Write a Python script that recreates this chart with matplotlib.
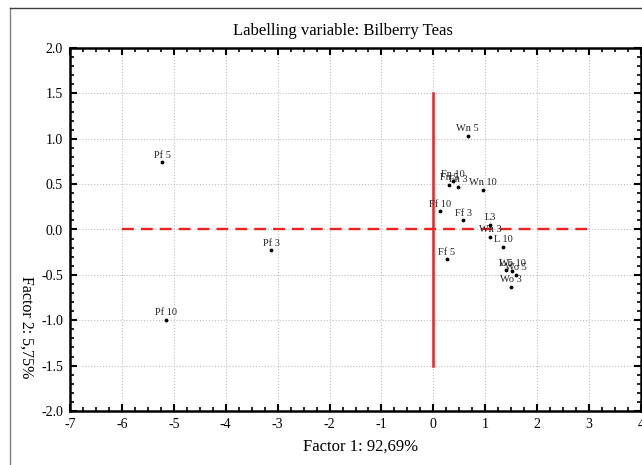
import numpy as np
import matplotlib
matplotlib.use('Agg')
import matplotlib.pyplot as plt
from matplotlib.lines import Line2D
from matplotlib.ticker import MultipleLocator

plt.rcParams['font.family'] = ['Liberation Serif', 'DejaVu Serif']

#-------------------------------------------------------------------------------
# DATA
#-------------------------------------------------------------------------------
labels = ['Pf 5', 'Pf 3', 'Pf 10',
          'Wn 5', 'Wn 10', 'Wn 3',
          'Fn 5', 'Fn 10', 'Fn 3',
          'Ff 10', 'Ff 3', 'Ff 5',
          'L3', 'L 10', 'L 5',
          'Wo 10', 'Wo 5', 'Wo 3']
f1 = [-5.22, -3.12, -5.15,
      0.66, 0.95, 1.09,
      0.30, 0.38, 0.48,
      0.13, 0.58, 0.26,
      1.09, 1.34, 1.39,
      1.52, 1.60, 1.49]
f2 = [0.74, -0.23, -1.00,
      1.03, 0.44, -0.08,
      0.49, 0.53, 0.47,
      0.20, 0.10, -0.33,
      0.05, -0.19, -0.45,
      -0.46, -0.50, -0.63]

hline_x = [-6, 3]
vline_y = [-1.5, 1.5]

#-------------------------------------------------------------------------------
# PLOT
#-------------------------------------------------------------------------------
fig = plt.figure(figsize=(6.42, 4.65), dpi=100)
ax = fig.add_axes([70/642, 1 - 411/465, 571/642, 363/465])

ax.set_xlim(-7, 4)
ax.set_ylim(-2, 2)
ax.xaxis.set_minor_locator(MultipleLocator(0.25))
ax.yaxis.set_minor_locator(MultipleLocator(0.1))
ax.set_xticks(np.arange(-7, 5, 1))
ax.set_xticklabels([str(t) for t in range(-7, 5)])
ax.set_yticks(np.arange(-2, 2.01, 0.5))
ax.set_yticklabels(['%.1f' % t for t in np.arange(-2, 2.01, 0.5)])

ax.tick_params(which='both', direction='in', top=True, right=True,
               color='k', labelsize=10, pad=5)
ax.tick_params(which='major', length=5, width=1.5)
ax.tick_params(which='minor', length=3, width=1.2)
for s in ax.spines.values():
    s.set_linewidth(1.8)

ax.grid(True, which='major', color='#c0c0c0', linestyle=':', linewidth=0.8)
ax.set_axisbelow(True)

ax.plot(hline_x, [0, 0], color='#ee2020', linestyle=(0, (5, 3)), linewidth=1.7, zorder=3)
ax.plot([0, 0], vline_y, color='#ee2020', linestyle='-', linewidth=1.8, zorder=3)

ax.scatter(f1, f2, s=3, color='k', zorder=4)
for lab, x, y in zip(labels, f1, f2):
    ax.annotate(lab, xy=(x, y), xytext=(0, 2), textcoords='offset points',
                ha='center', va='bottom', fontsize=7.5, color='#222222', zorder=5)

fig.text(343/642, 1 - 31/465, 'Labelling variable: Bilberry Teas',
         ha='center', va='center', fontsize=12)
fig.text(361/642, 1 - 447/465, 'Factor 1: 92,69%', ha='center', va='center',
         fontsize=12)
fig.text(26/642, 1 - 327/465, 'Factor 2: 5,75%', ha='center', va='center',
         fontsize=11.5, rotation=270)

# outer frame
fig.add_artist(Line2D([9.5/642, 9.5/642], [0, 1 - 8/465], transform=fig.transFigure,
                      color='#808080', linewidth=1))
fig.add_artist(Line2D([9.5/642, 1], [1 - 8/465, 1 - 8/465], transform=fig.transFigure,
                      color='#404040', linewidth=1))

fig.savefig('out.png', dpi=100)
